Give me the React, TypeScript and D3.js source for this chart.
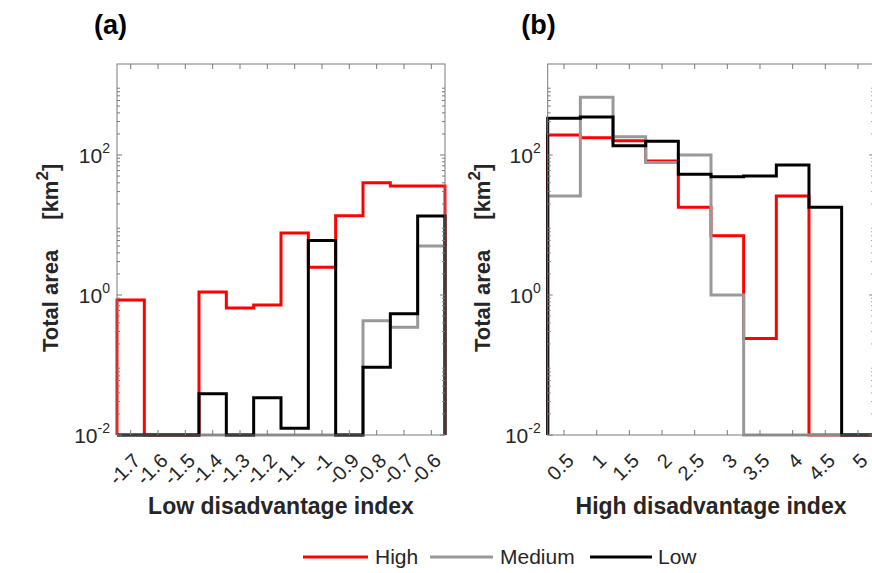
import React from 'react';
import * as d3 from 'd3';

// ---------- data ----------
const binsA = [-1.7, -1.6, -1.5, -1.4, -1.3, -1.2, -1.1, -1.0, -0.9, -0.8, -0.7, -0.6];
const tickLabelsA = ['-1.7', '-1.6', '-1.5', '-1.4', '-1.3', '-1.2', '-1.1', '-1', '-0.9', '-0.8', '-0.7', '-0.6'];
const highA = [0.85, 0, 0, 1.1, 0.65, 0.72, 7.7, 2.5, 13.5, 40, 36, 36];
const mediumA = [0, 0, 0, 0, 0, 0, 0, 0, 0, 0.43, 0.345, 5.0];
const lowA = [0, 0, 0, 0.039, 0, 0.034, 0.0125, 6.0, 0, 0.093, 0.54, 13.4];

const binsB = [0.5, 1, 1.5, 2, 2.5, 3, 3.5, 4, 4.5, 5];
const tickLabelsB = ['0.5', '1', '1.5', '2', '2.5', '3', '3.5', '4', '4.5', '5'];
const highB = [193, 177, 160, 82, 18, 7.0, 0.24, 26, 0, 0];
const mediumB = [26, 667, 183, 78, 100, 1.0, 0, 0, 0, 0];
const lowB = [334, 349, 136, 157, 53, 49, 50, 72, 18, 0];

const yMajor = [0.01, 1, 100];
const yMajorExp = ['-2', '0', '2'];
const seriesNames = ['High', 'Medium', 'Low'];
const seriesColors = ['#ff0000', '#999999', '#000000'];

const Y_MIN = 0.01;
const Y_MAX = 1995;

// ---------- layout ----------
const W = 872;
const H = 573;
const TOP = 64;
const BOTTOM = 435;
const AXIS = '#7a7a7a';
const TXT = '#262626';
const FONT = 'Liberation Sans, Arial, Helvetica, sans-serif';

type PanelProps = {
  x0: number;
  x1: number;
  bins: number[];
  binW: number;
  labels: string[];
  series: number[][];
  xLabel: string;
  title: string;
  titleX: number;
  yLabelX: number;
};

const y = d3.scaleLog().domain([Y_MIN, Y_MAX]).range([BOTTOM, TOP]);

function minorTicks(): number[] {
  const out: number[] = [];
  for (let e = -2; e <= 3; e++) {
    for (let m = 2; m <= 9; m++) {
      const v = m * Math.pow(10, e);
      if (v < Y_MAX) out.push(v);
    }
  }
  return out;
}

function Panel(p: PanelProps) {
  const x = d3
    .scaleLinear()
    .domain([p.bins[0] - p.binW / 2, p.bins[p.bins.length - 1] + p.binW / 2])
    .range([p.x0, p.x1]);

  const line = d3
    .line<[number, number]>()
    .x((d) => d[0])
    .y((d) => d[1]);

  const stepPath = (vals: number[]) => {
    const pts: [number, number][] = [];
    const clamp = (v: number) => y(Math.max(v, Y_MIN));
    pts.push([x(p.bins[0] - p.binW / 2), BOTTOM]);
    vals.forEach((v, i) => {
      const l = x(p.bins[i] - p.binW / 2);
      const r = x(p.bins[i] + p.binW / 2);
      pts.push([l, clamp(v)]);
      pts.push([r, clamp(v)]);
    });
    pts.push([x(p.bins[p.bins.length - 1] + p.binW / 2), BOTTOM]);
    return line(pts) || '';
  };

  const minors = minorTicks();

  return (
    <g>
      {/* title */}
      <text x={p.titleX} y={34} textAnchor="middle" fontFamily={FONT} fontWeight="bold" fontSize={27} fill="#000">
        {p.title}
      </text>

      {/* series */}
      {p.series.map((vals, i) => (
        <path
          key={i}
          d={stepPath(vals)}
          fill="none"
          stroke={seriesColors[i]}
          strokeWidth={3}
          strokeLinejoin="miter"
        />
      ))}

      {/* box */}
      <rect x={p.x0} y={TOP} width={p.x1 - p.x0} height={BOTTOM - TOP} fill="none" stroke={AXIS} strokeWidth={1} />

      {/* x ticks */}
      {p.bins.map((b, i) => (
        <g key={'xt' + i}>
          <line x1={x(b)} x2={x(b)} y1={BOTTOM} y2={BOTTOM - 5} stroke={AXIS} />
          <line x1={x(b)} x2={x(b)} y1={TOP} y2={TOP + 5} stroke={AXIS} />
          <text
            transform={`translate(${x(b) + 11},${BOTTOM + 27}) rotate(-45)`}
            textAnchor="end"
            fontFamily={FONT}
            fontSize={20}
            fill={TXT}
          >
            {p.labels[i]}
          </text>
        </g>
      ))}

      {/* y ticks */}
      {yMajor.map((v, i) => (
        <g key={'ym' + i}>
          <line x1={p.x0} x2={p.x0 + 5} y1={y(v)} y2={y(v)} stroke={AXIS} />
          <line x1={p.x1} x2={p.x1 - 5} y1={y(v)} y2={y(v)} stroke={AXIS} />
          <text x={p.x0 - 7} y={y(v) + 8} textAnchor="end" fontFamily={FONT} fontSize={21} fill={TXT}>
            10
            <tspan dy={-10} fontSize={14}>
              {yMajorExp[i]}
            </tspan>
          </text>
        </g>
      ))}
      {minors.map((v, i) => (
        <g key={'yn' + i}>
          <line x1={p.x0} x2={p.x0 + 3} y1={y(v)} y2={y(v)} stroke={AXIS} />
          <line x1={p.x1} x2={p.x1 - 3} y1={y(v)} y2={y(v)} stroke={AXIS} />
        </g>
      ))}

      {/* axis labels */}
      <text
        x={(p.x0 + p.x1) / 2}
        y={514}
        textAnchor="middle"
        fontFamily={FONT}
        fontWeight="bold"
        fontSize={23}
        fill={TXT}
      >
        {p.xLabel}
      </text>
      <text
        transform={`translate(${p.yLabelX},352) rotate(-90)`}
        textAnchor="start"
        fontFamily={FONT}
        fontWeight="bold"
        fontSize={22}
        fill={TXT}
      >
        Total area
        <tspan dx={30}>[km</tspan>
        <tspan dy={-10} fontSize={17}>
          2
        </tspan>
        <tspan dy={10}>]</tspan>
      </text>
    </g>
  );
}

export default function App() {
  const legendItems = [
    { x1: 303, x2: 368, tx: 375 },
    { x1: 430, x2: 493, tx: 500 },
    { x1: 590, x2: 652, tx: 658 },
  ];
  return (
    <svg
      width={W}
      height={H}
      style={{ position: 'absolute', left: 0, top: 0, background: '#fff' }}
    >
      <rect x={0} y={0} width={W} height={H} fill="#fff" />
      <Panel
        x0={117}
        x1={445}
        bins={binsA}
        binW={0.1}
        labels={tickLabelsA}
        series={[highA, mediumA, lowA]}
        xLabel="Low disadvantage index"
        title="(a)"
        titleX={110.5}
        yLabelX={58}
      />
      <Panel
        x0={547.7}
        x1={874.3}
        bins={binsB}
        binW={0.5}
        labels={tickLabelsB}
        series={[highB, mediumB, lowB]}
        xLabel="High disadvantage index"
        title="(b)"
        titleX={538.5}
        yLabelX={490}
      />
      {/* legend */}
      {legendItems.map((it, i) => (
        <g key={i}>
          <line x1={it.x1} x2={it.x2} y1={557} y2={557} stroke={seriesColors[i]} strokeWidth={3} />
          <text x={it.tx} y={564} fontFamily={FONT} fontSize={21} fill={TXT}>
            {seriesNames[i]}
          </text>
        </g>
      ))}
    </svg>
  );
}
